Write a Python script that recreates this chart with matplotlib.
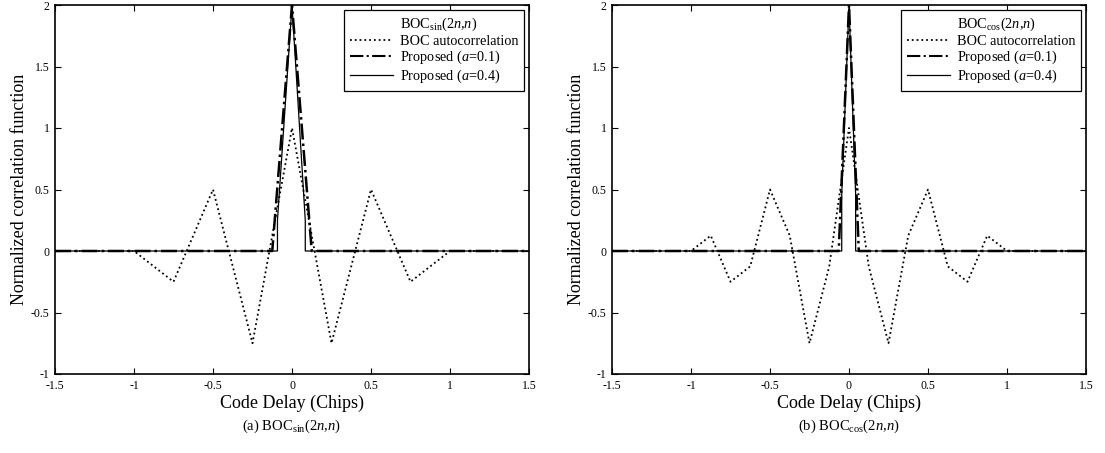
import matplotlib
matplotlib.use("Agg")
import matplotlib.pyplot as plt
from matplotlib.lines import Line2D

plt.rcParams['font.family'] = ['Liberation Serif', 'DejaVu Serif']
plt.rcParams['mathtext.fontset'] = 'custom'
plt.rcParams['mathtext.rm'] = 'Liberation Serif'
plt.rcParams['mathtext.it'] = 'Liberation Serif:italic'

# ---- data ----
sin_acf_x = [-1.5, -1.0, -0.75, -0.5, -0.25, 0.0, 0.25, 0.5, 0.75, 1.0, 1.5]
sin_acf_y = [0.0, 0.0, -0.25, 0.5, -0.75, 1.0, -0.75, 0.5, -0.25, 0.0, 0.0]
sin_p01_x = [-1.5, -0.125, 0.0, 0.125, 1.5]
sin_p01_y = [0.0, 0.0, 2.0, 0.0, 0.0]
sin_p04_x = [-1.5, -0.092, -0.092, 0.0, 0.084, 0.084, 1.5]
sin_p04_y = [0.0, 0.0, 0.25, 2.0, 0.25, 0.0, 0.0]

cos_acf_x = [-1.5, -1.0, -0.875, -0.75, -0.625, -0.5, -0.375, -0.25, -0.125, 0.0,
             0.125, 0.25, 0.375, 0.5, 0.625, 0.75, 0.875, 1.0, 1.5]
cos_acf_y = [0.0, 0.0, 0.125, -0.25, -0.125, 0.5, 0.125, -0.75, -0.125, 1.0,
             -0.125, -0.75, 0.125, 0.5, -0.125, -0.25, 0.125, 0.0, 0.0]
cos_p01_x = [-1.5, -0.065, 0.0, 0.062, 1.5]
cos_p01_y = [0.0, 0.0, 2.0, 0.0, 0.0]
cos_p04_x = [-1.5, -0.046, -0.046, 0.0, 0.042, 0.042, 1.5]
cos_p04_y = [0.0, 0.0, 0.46, 2.0, 0.46, 0.0, 0.0]

x_ticks = [-1.5, -1, -0.5, 0, 0.5, 1, 1.5]
x_tick_labels = ['-1.5', '-1', '-0.5', '0', '0.5', '1', '1.5']
y_ticks = [-1, -0.5, 0, 0.5, 1, 1.5, 2]
y_tick_labels = ['-1', '-0.5', '0', '0.5', '1', '1.5', '2']

legend_titles = ['BOC$_{\\mathrm{sin}}$(2$n$,$n$)', 'BOC$_{\\mathrm{cos}}$(2$n$,$n$)']
captions = ['(a) BOC$_{\\mathrm{sin}}$(2$n$,$n$)', '(b) BOC$_{\\mathrm{cos}}$(2$n$,$n$)']
series_labels = ['BOC autocorrelation', 'Proposed ($a$=0.1)', 'Proposed ($a$=0.4)']

W, H = 1105, 453
fig = plt.figure(figsize=(W / 100, H / 100), dpi=100)

panels = [
    (55, (sin_acf_x, sin_acf_y), (sin_p01_x, sin_p01_y), (sin_p04_x, sin_p04_y)),
    (612, (cos_acf_x, cos_acf_y), (cos_p01_x, cos_p01_y), (cos_p04_x, cos_p04_y)),
]
ax_w = 474
ax_top = 5
ax_bot = 374

for i, (left, acf, p01, p04) in enumerate(panels):
    ax = fig.add_axes([left / W, 1 - ax_bot / H, ax_w / W, (ax_bot - ax_top) / H])
    ax.plot(acf[0], acf[1], color='black', linestyle=':', linewidth=1.3)
    ax.plot(p01[0], p01[1], color='black', linestyle='-.', linewidth=1.8)
    ax.plot(p04[0], p04[1], color='black', linestyle='-', linewidth=0.9)
    ax.set_xlim(-1.5, 1.5)
    ax.set_ylim(-1, 2)
    ax.set_xticks(x_ticks)
    ax.set_xticklabels(x_tick_labels)
    ax.set_yticks(y_ticks)
    ax.set_yticklabels(y_tick_labels)
    ax.tick_params(direction='in', top=True, right=True, length=4, width=0.8,
                   labelsize=8.5, pad=4)
    for s in ax.spines.values():
        s.set_linewidth(1.2)
    ax.set_xlabel('Code Delay (Chips)', fontsize=13, labelpad=2)
    ax.set_ylabel('Normalized correlation function', fontsize=13, labelpad=2)

    handles = [Line2D([], [], color='none'),
               Line2D([], [], color='black', linestyle=':', linewidth=1.3),
               Line2D([], [], color='black', linestyle='-.', linewidth=1.5),
               Line2D([], [], color='black', linestyle='-', linewidth=0.9)]
    labels = [legend_titles[i]] + series_labels
    leg = ax.legend(handles, labels, loc='upper right', fontsize=10.3,
                    fancybox=False, edgecolor='black', framealpha=1,
                    borderaxespad=0.35, handlelength=3.0, labelspacing=0.1,
                    borderpad=0.4, handletextpad=0.5)
    leg.get_frame().set_linewidth(0.9)

    fig.text((left + ax_w / 2) / W, 1 - 426 / H, captions[i], ha='center',
             va='center', fontsize=10.5)

fig.savefig('out.png', dpi=100)
